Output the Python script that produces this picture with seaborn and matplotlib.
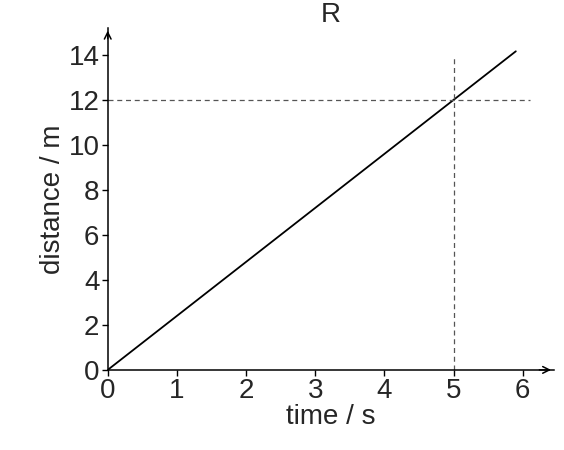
import matplotlib
matplotlib.use("Agg")
import matplotlib.pyplot as plt
import seaborn as sns
import pandas as pd

line_t = [0, 5.9]
line_d = [0, 14.16]
mark_t = 5
mark_d = 12
xticks = [0, 1, 2, 3, 4, 5, 6]
yticks = [0, 2, 4, 6, 8, 10, 12, 14]

sns.set_theme(style="ticks")
plt.rcParams['font.family'] = ['Liberation Sans', 'DejaVu Sans']

fig = plt.figure(figsize=(5.64, 4.5), dpi=100)
ax = fig.add_axes([0.191, 0.178, 0.791, 0.76])
df = pd.DataFrame({"t": line_t, "d": line_d})
sns.lineplot(data=df, x="t", y="d", ax=ax, color="black", linewidth=1.3)
ax.plot([mark_t, mark_t], [0, 14], ls=(0, (4, 3)), color="#555555", lw=0.9)
ax.plot([0, 6.1], [mark_d, mark_d], ls=(0, (4, 3)), color="#555555", lw=0.9)

ax.set_xlim(0, 6.45)
ax.set_ylim(0, 15.2)
ax.set_xticks(xticks)
ax.set_yticks(yticks)
ax.tick_params(labelsize=20, length=4, width=1, color="black", pad=2)
for s in ["top", "right"]:
    ax.spines[s].set_visible(False)
for s in ["left", "bottom"]:
    ax.spines[s].set_linewidth(1.1)
    ax.spines[s].set_color("black")
ax.annotate("", xy=(6.45, 0), xytext=(6.2, 0), xycoords="data",
            arrowprops=dict(arrowstyle="->", color="black", lw=1.1), annotation_clip=False)
ax.annotate("", xy=(0, 15.2), xytext=(0, 14.6), xycoords="data",
            arrowprops=dict(arrowstyle="->", color="black", lw=1.1), annotation_clip=False)
ax.set_xlabel("time / s", fontsize=20, labelpad=0)
ax.set_ylabel("distance / m", fontsize=20, labelpad=2)
ax.set_title("R", fontsize=20, pad=0)
fig.savefig("out.png", dpi=100)
